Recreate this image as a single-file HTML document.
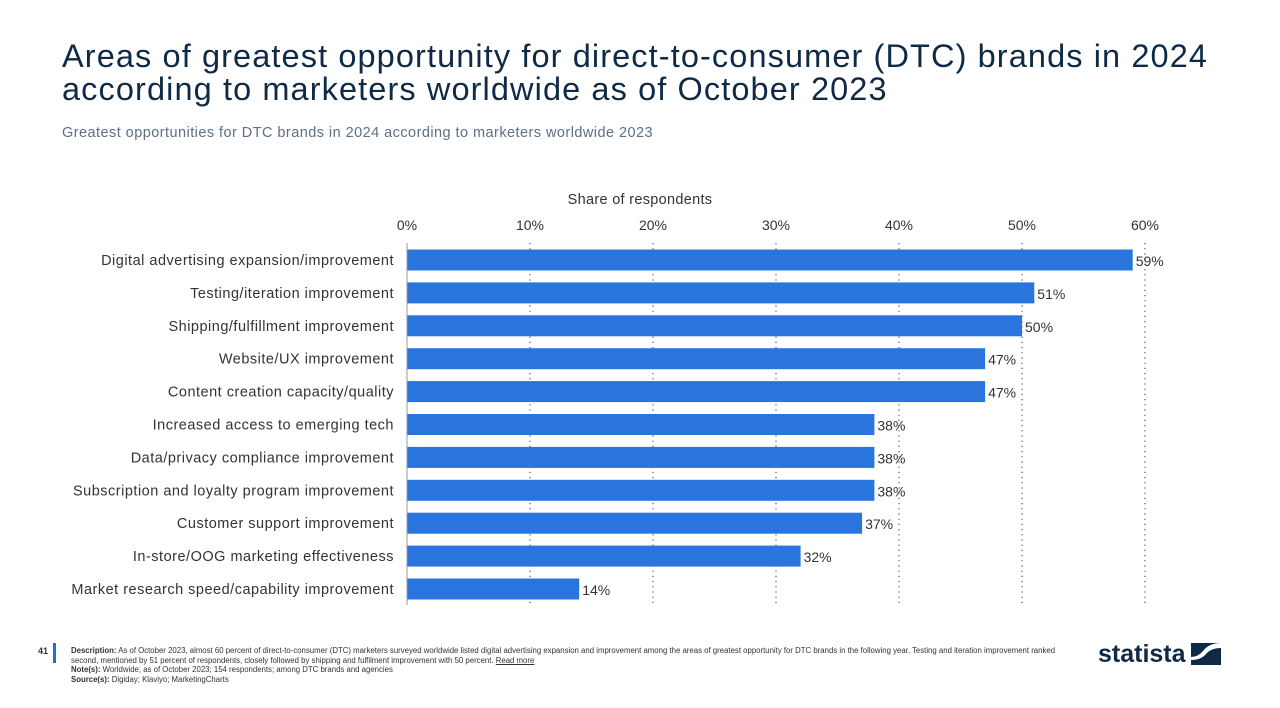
<!DOCTYPE html>
<html><head><meta charset="utf-8"><style>
body{margin:0;width:1280px;height:708px;background:#fff;font-family:"Liberation Sans",sans-serif;position:relative;overflow:hidden}
.t{position:absolute;left:62px;top:40px;font-size:32.5px;line-height:33px;color:#0f2a47;letter-spacing:1.1px;white-space:nowrap}
.st{position:absolute;left:62px;top:125px;font-size:14.5px;color:#5c6f86;letter-spacing:0.45px}
.ft{position:absolute;left:71px;top:646px;font-size:7.8px;line-height:9.6px;color:#333;width:990px}
</style></head><body>
<div class="t">Areas of greatest opportunity for direct-to-consumer (DTC) brands in 2024<br>according to marketers worldwide as of October 2023</div>
<div class="st">Greatest opportunities for DTC brands in 2024 according to marketers worldwide 2023</div>
<svg id="c" width="1280" height="708" style="position:absolute;left:0;top:0"></svg>
<div style="position:absolute;left:38px;top:646px;font-size:9px;font-weight:bold;color:#333">41</div>
<div style="position:absolute;left:53px;top:643px;width:3px;height:20px;background:#1a6fe0"></div>
<div class="ft"><b>Description:</b> As of October 2023, almost 60 percent of direct-to-consumer (DTC) marketers surveyed worldwide listed digital advertising expansion and improvement among the areas of greatest opportunity for DTC brands in the following year. Testing and iteration improvement ranked second, mentioned by 51 percent of respondents, closely followed by shipping and fulfilment improvement with 50 percent. <u>Read more</u><br><b>Note(s):</b> Worldwide; as of October 2023; 154 respondents; among DTC brands and agencies<br><b>Source(s):</b> Digiday; Klaviyo; MarketingCharts</div>
<div style="position:absolute;left:1098px;top:640px;font-size:25px;font-weight:bold;color:#0f2a47">statista</div>
<svg style="position:absolute;left:1191px;top:643px" width="30" height="22"><rect width="30" height="22" fill="#0f2a47"/><path d="M0 22 L0 17 Q10 17 15 11 Q20 5 30 5 L30 0 Q18 0 12 8 Q7 14 0 14Z" fill="#fff"/></svg>
<script>
const categories=["Digital advertising expansion/improvement","Testing/iteration improvement","Shipping/fulfillment improvement","Website/UX improvement","Content creation capacity/quality","Increased access to emerging tech","Data/privacy compliance improvement","Subscription and loyalty program improvement","Customer support improvement","In-store/OOG marketing effectiveness","Market research speed/capability improvement"];
const values=[59,51,50,47,47,38,38,38,37,32,14];
const ticks=[0,10,20,30,40,50,60];
const NS="http://www.w3.org/2000/svg",svg=document.getElementById('c');
const x=v=>407+v*12.3, y=i=>260+i*32.9;
function el(t,a,txt){const e=document.createElementNS(NS,t);for(const k in a)e.setAttribute(k,a[k]);if(txt!=null)e.textContent=txt;svg.appendChild(e);return e;}
let at=el('text',{x:640,y:204,'text-anchor':'middle','font-size':14.5,fill:'#333','letter-spacing':0.3},'Share of respondents');


ticks.forEach(t=>{
 let l=el('text',{x:x(t),y:230,'text-anchor':'middle','font-size':14,fill:'#333'},t+'%');
 
 
 if(t>0){let g=el('line',{x1:x(t),x2:x(t),y1:243,y2:605,stroke:'#555','stroke-width':1.2,'stroke-dasharray':'1.2 4'});
 
 }
});
values.forEach((v,i)=>{
 let r=el('rect',{x:407,y:y(i)-10.5,width:x(v)-407,height:21,fill:'#2a75dd'});
 
 
 let c=el('text',{x:394,y:y(i)+5,'text-anchor':'end','font-size':14.5,fill:'#333','letter-spacing':0.5},categories[i]);
 
 
 let vl=el('text',{x:x(v)+3,y:y(i)+6,'font-size':14,fill:'#333'},v+'%');
 
 
});
let ax=el('line',{x1:407,x2:407,y1:243,y2:605,stroke:'#999','stroke-width':1});


</script>
</body></html>
